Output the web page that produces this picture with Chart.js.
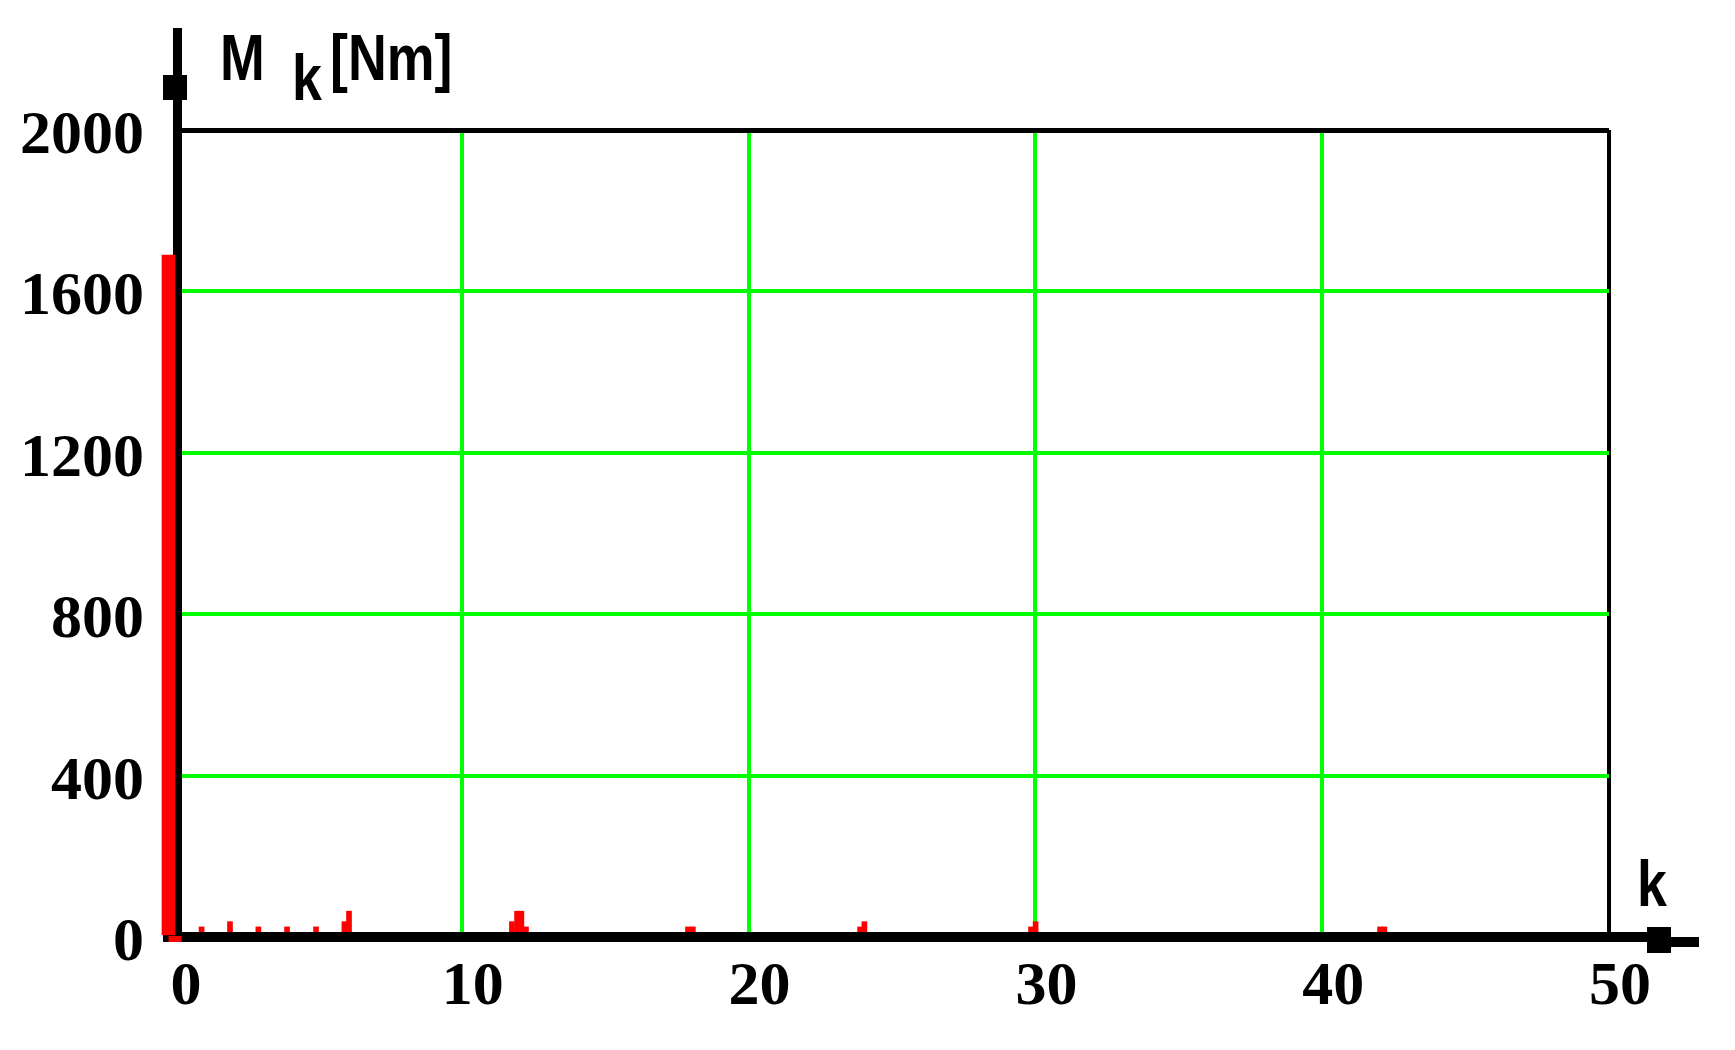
<!DOCTYPE html>
<html>
<head>
<meta charset="utf-8">
<script src="https://cdn.jsdelivr.net/npm/chart.js@4.4.1/dist/chart.umd.min.js"></script>
<style>
  html, body { margin: 0; padding: 0; background: #ffffff; }
  #wrap { width: 1735px; height: 1050px; }
</style>
</head>
<body>
<div id="wrap"><canvas id="spectrum" width="1735" height="1050"></canvas></div>
<script>
// Harmonic orders k and torque amplitudes M_k [Nm]
const dcOrder = [0];
const dcTorque = [1690];
const harmOrder = [0.84, 1.83, 2.82, 3.82, 4.83, 5.82, 5.98, 11.66, 11.84, 11.99, 12.15, 17.8, 17.97, 23.8, 23.95, 29.76, 29.92, 41.93, 42.08];
const harmTorque = [25, 38, 25, 25, 25, 38, 64, 38, 64, 64, 25, 25, 25, 25, 38, 25, 38, 25, 25];

// Axis ticks
const xTicks = [0, 10, 20, 30, 40, 50];
const yTicks = [0, 400, 800, 1200, 1600, 2000];

const GREEN = '#00ff00';
const RED = '#ff0000';
const tickFont = { family: '"Liberation Serif", "Times New Roman", serif', weight: 'bold', size: 62 };
const titleFont = 'bold 64px "Liberation Sans", Arial, sans-serif';

// narrow bold text, squeezed horizontally like the original bitmap font
function narrowText(ctx, text, x, y) {
    ctx.save();
    ctx.translate(x, y);
    ctx.scale(0.84, 1);
    ctx.fillText(text, 0, 0);
    ctx.restore();
}

// Draws the thick axes with block arrows, after the small harmonics but under the DC bar
const axesPlugin = {
    id: 'axesPlugin',
    afterDatasetDraw(chart, args) {
        if (args.index !== 1) return;
        const ctx = chart.ctx;
        const x = chart.scales.x;
        const y = chart.scales.y;
        const x0 = x.getPixelForValue(0);
        const y0 = y.getPixelForValue(0);
        ctx.save();
        ctx.fillStyle = '#000';
        // x axis
        ctx.fillRect(x0 - 12, y0 - 5, x.right - x0 + 50, 10);
        ctx.fillRect(x.right + 38, y0 - 10, 24, 26);
        ctx.fillRect(x.right + 62, y0, 28, 10);
        // y axis
        ctx.fillRect(x0 - 2, 28, 9, y0 + 5 - 28);
        ctx.fillRect(x0 - 12, 75, 24, 25);
        ctx.restore();
    },
    afterDatasetsDraw(chart) {
        // DC bar runs through the x axis line
        const ctx = chart.ctx;
        const x0 = chart.scales.x.getPixelForValue(0);
        const y0 = chart.scales.y.getPixelForValue(0);
        ctx.save();
        ctx.fillStyle = RED;
        ctx.fillRect(x0 - 6.5, y0 - 1, 13, 6);
        ctx.restore();
    },
    afterDraw(chart) {
        const ctx = chart.ctx;
        ctx.save();
        ctx.fillStyle = '#000';
        ctx.font = titleFont;
        ctx.textBaseline = 'alphabetic';
        ctx.textAlign = 'left';
        narrowText(ctx, 'M', 220, 80);
        narrowText(ctx, 'k', 292, 100);
        narrowText(ctx, '[Nm]', 330, 80);
        narrowText(ctx, 'k', 1637, 906);
        ctx.restore();
    }
};

document.addEventListener('DOMContentLoaded', function() {
    const ctx = document.getElementById('spectrum').getContext('2d');

    new Chart(ctx, {
        type: 'bar',
        data: {
            datasets: [{
                label: 'M0',
                data: dcOrder.map((k, i) => ({ x: k, y: dcTorque[i] })),
                backgroundColor: RED,
                borderWidth: 0,
                barThickness: 13,
                order: 1,
                clip: false
            }, {
                label: 'Mk',
                data: harmOrder.map((k, i) => ({ x: k, y: harmTorque[i] })),
                backgroundColor: RED,
                borderWidth: 0,
                barThickness: 5,
                order: 2
            }]
        },
        options: {
            responsive: false,
            animation: false,
            devicePixelRatio: 1,
            layout: {
                padding: { top: 130, right: 126, left: 0, bottom: 0 }
            },
            scales: {
                x: {
                    type: 'linear',
                    min: 0,
                    max: 50,
                    offset: false,
                    afterFit: function(scale) { scale.height = 113; },
                    afterBuildTicks: function(scale) { scale.ticks = xTicks.map(v => ({ value: v })); },
                    ticks: {
                        color: '#000',
                        font: tickFont,
                        padding: 14,
                        labelOffset: 11,
                        maxRotation: 0,
                        autoSkip: false,
                        callback: v => String(v)
                    },
                    grid: {
                        offset: false,
                        drawTicks: false,
                        color: c => c.tick.value === 50 ? '#000' : (c.tick.value === 0 ? 'rgba(0,0,0,0)' : GREEN),
                        lineWidth: 4
                    },
                    border: { display: false }
                },
                y: {
                    min: 0,
                    max: 2000,
                    afterFit: function(scale) { scale.width = 175; },
                    afterBuildTicks: function(scale) { scale.ticks = yTicks.map(v => ({ value: v })); },
                    ticks: {
                        color: '#000',
                        font: tickFont,
                        padding: 31,
                        labelOffset: 7,
                        callback: v => String(v)
                    },
                    grid: {
                        drawTicks: false,
                        color: c => c.tick.value === 2000 ? '#000' : (c.tick.value === 0 ? 'rgba(0,0,0,0)' : GREEN),
                        lineWidth: c => c.tick.value === 2000 ? 5 : 4
                    },
                    border: { display: false }
                }
            },
            plugins: {
                legend: { display: false },
                tooltip: { enabled: false }
            }
        },
        plugins: [axesPlugin]
    });
});
</script>
</body>
</html>
